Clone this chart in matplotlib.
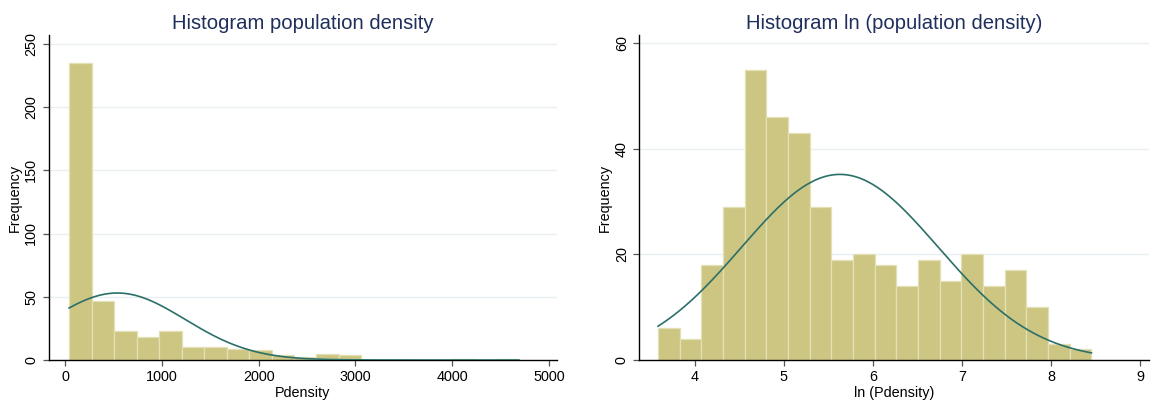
import numpy as np
import matplotlib
matplotlib.use("Agg")
import matplotlib.pyplot as plt

plt.rcParams['font.family'] = ['Liberation Sans', 'DejaVu Sans']

# left panel: population density, 20 bins
pd_counts = [235, 47, 23, 18, 23, 10, 10, 9, 8, 4, 2, 5, 4, 0, 0, 0, 0, 1, 0, 1]
pd_start = 41.7
pd_width = 232.4
pd_mean = 540.0
pd_sd = 700.0
pd_xticks = [0, 1000, 2000, 3000, 4000, 5000]
pd_yticks = [0, 50, 100, 150, 200, 250]

# right panel: ln(population density), 20 bins
ln_counts = [6, 4, 18, 29, 55, 46, 43, 29, 19, 20, 18, 14, 19, 15, 20, 14, 17, 10, 3, 2]
ln_start = 3.589
ln_width = 0.2432
ln_mean = 5.63
ln_sd = 1.106
ln_xticks = [4, 5, 6, 7, 8, 9]
ln_yticks = [0, 20, 40, 60]

BAR_COLOR = '#cdc582'
EDGE_COLOR = '#e4e0b6'
LINE_COLOR = '#2b7068'
TITLE_COLOR = '#1f2f5c'
GRID_COLOR = '#e9eff0'


def draw_hist(ax, counts, start, width, mean, sd, title, xlabel, xticks, yticks, xlim, ylim):
    counts = np.asarray(counts)
    edges = start + width * np.arange(len(counts) + 1)
    ax.bar(edges[:-1], counts, width=width, align='edge', color=BAR_COLOR,
           edgecolor=EDGE_COLOR, linewidth=0.9, zorder=2)

    # normal density scaled to frequency
    n = counts.sum()
    xs = np.linspace(edges[0], edges[-1], 400)
    ys = n * width / (sd * np.sqrt(2 * np.pi)) * np.exp(-0.5 * ((xs - mean) / sd) ** 2)
    ax.plot(xs, ys, color=LINE_COLOR, lw=1.2, zorder=3)

    ax.set_xlim(*xlim)
    ax.set_ylim(*ylim)
    ax.set_xticks(xticks)
    ax.set_yticks(yticks)
    ax.set_yticklabels([str(t) for t in yticks], rotation=90, va='center')
    for t in yticks[1:]:
        ax.axhline(t, color=GRID_COLOR, lw=1.0, zorder=1)

    ax.spines['top'].set_visible(False)
    ax.spines['right'].set_visible(False)
    ax.spines['left'].set_linewidth(1.0)
    ax.spines['bottom'].set_linewidth(1.0)
    ax.tick_params(axis='both', direction='out', length=4, width=0.9, color='#555555',
                   labelsize=10.4, pad=3.5)
    ax.set_title(title, fontsize=14.6, color=TITLE_COLOR, pad=4.5)
    ax.set_xlabel(xlabel, fontsize=10.4, labelpad=1.5)
    ax.set_ylabel('Frequency', fontsize=10.4, labelpad=2)


fig = plt.figure(figsize=(11.51, 4.03), dpi=100)
ax1 = fig.add_axes([0.0423, 0.1067, 0.4416, 0.8065])
ax2 = fig.add_axes([0.5554, 0.1067, 0.4429, 0.8065])

draw_hist(ax1, pd_counts, pd_start, pd_width, pd_mean, pd_sd,
          'Histogram population density', 'Pdensity', pd_xticks, pd_yticks,
          (-169, 5083), (0, 257))
draw_hist(ax2, ln_counts, ln_start, ln_width, ln_mean, ln_sd,
          'Histogram ln (population density)', 'ln (Pdensity)', ln_xticks, ln_yticks,
          (3.378, 9.1), (0, 61.6))

fig.savefig('out.png', dpi=100)
